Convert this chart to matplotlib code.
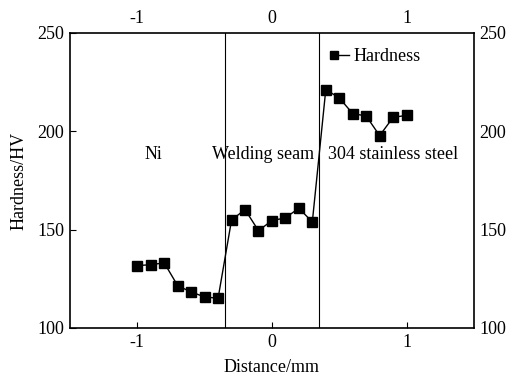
import matplotlib.pyplot as plt
from matplotlib.lines import Line2D
from matplotlib.legend_handler import HandlerTuple

# hardness profile across the weld
distance = [-1.0, -0.9, -0.8, -0.7, -0.6, -0.5, -0.4,
            -0.3, -0.2, -0.1, 0.0, 0.1, 0.2, 0.3,
            0.4, 0.5, 0.6, 0.7, 0.8, 0.9, 1.0]
hardness = [131.7, 132.2, 133.1, 121.5, 118.3, 115.8, 115.1,
            154.9, 160.2, 149.5, 154.6, 156.0, 160.9, 153.9,
            221.2, 217.0, 209.0, 207.8, 197.8, 207.1, 208.1]
boundaries = [-0.35, 0.35]
zones = ["Ni", "Welding seam", "304 stainless steel"]
zone_x = [-0.88, -0.065, 0.90]
xticks = [-1, 0, 1]
yticks = [100, 150, 200, 250]

plt.rcParams['font.family'] = ['Liberation Serif', 'DejaVu Serif']
plt.rcParams['font.size'] = 13

fig = plt.figure(figsize=(5.09, 3.79), dpi=100)
ax = fig.add_axes([0.1375, 0.1346, 0.7935, 0.7784])

ax.plot(distance, hardness, color='black', lw=1, marker='s', ms=6.5)
for b in boundaries:
    ax.axvline(b, color='black', lw=0.8)
for name, zx in zip(zones, zone_x):
    ax.text(zx, 188, name, ha='center', va='center', fontsize=13)

ax.set_xlim(-1.5, 1.5)
ax.set_ylim(100, 250)
ax.set_xticks(xticks)
ax.set_yticks(yticks)
ax.set_xticklabels(['-1', '0', '1'])
ax.tick_params(direction='in', length=4, top=False, right=False,
               labeltop=True, labelright=True, pad=4)
ax.set_xlabel('Distance/mm', labelpad=6)
ax.set_ylabel('Hardness/HV', labelpad=7)
for s in ax.spines.values():
    s.set_linewidth(1.2)

# legend drawn as "marker then short line"
mk = Line2D([], [], color='black', marker='s', ms=5.5, ls='none')
ln = Line2D([], [], color='black', lw=1)
ax.legend([(mk, ln)], ['Hardness'],
          handler_map={tuple: HandlerTuple(ndivide=None, pad=0)},
          loc='center left', bbox_to_anchor=(0.641, 0.919), frameon=False,
          handlelength=1.1, handletextpad=0.28, borderaxespad=0,
          borderpad=0)

fig.savefig('out.png', dpi=100)
